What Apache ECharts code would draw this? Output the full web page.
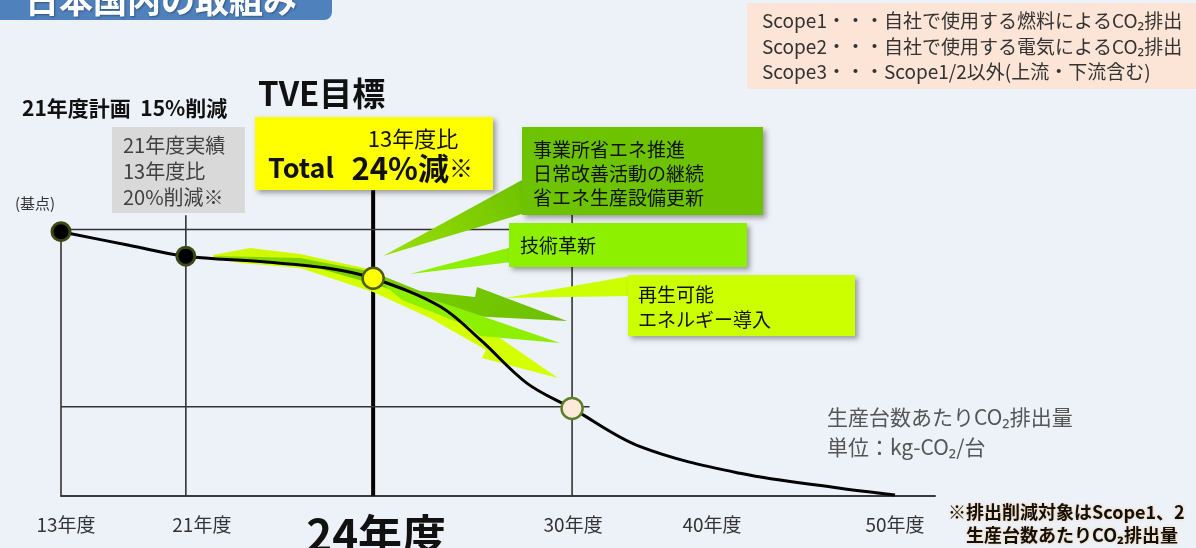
<!DOCTYPE html>
<html>
<head>
<meta charset="utf-8">
<script src="https://cdn.jsdelivr.net/npm/echarts@6.0.0/dist/echarts.min.js"></script>
<style>
html,body{margin:0;padding:0;background:#EDF1F8;}
#c{width:1196px;height:548px;}
</style>
</head>
<body>
<div id="c"></div>
<script>
// ---- data ----
const categories = ['13年度', '21年度', '24年度', '30年度', '40年度', '50年度'];
const categoryPos = [0, 15, 37.5, 61.4, 78.2, 100.2];          // position of each fiscal year on the concept axis
const keyValues = [99.2, 90.0, 81.7, 32.8];                      // 13, 21, 24, 30年度 (index, base = 100)
const curveX = [0, 8.3, 15, 24.3, 32.3, 37.5, 45.6, 50.4, 56, 61.4, 69.6, 81.6, 93.6, 100.2];
const curveY = [99.2, 94.0, 90.0, 87.9, 85.4, 81.7, 71.0, 58.5, 42.2, 32.8, 18.4, 8.4, 2.8, 0.3];
const refLevels = [100, 33.4];
const vLineTops = [100, 105.4, 114.8, 112];

const FONT = '"Noto Sans CJK JP", "Noto Sans", sans-serif';
const chart = echarts.init(document.getElementById('c'), null, {renderer: 'canvas'});

const PXU = 874 / 105; // px per x unit
const labelShiftPx = [5, 16, 3, 1, 0, 0];
const labelValues = categoryPos.map((p, i) => p + labelShiftPx[i] / PXU);

function nearestIdx(v) {
  let b = 0, d = 1e9;
  labelValues.forEach((p, i) => { if (Math.abs(p - v) < d) { d = Math.abs(p - v); b = i; } });
  return b;
}

const series = [];
for (let i = 0; i < 4; i++) {
  series.push({
    type: 'line', silent: true, symbol: 'none', z: 1,
    data: [[categoryPos[i], 0], [categoryPos[i], vLineTops[i]]],
    lineStyle: {color: i === 2 ? '#000' : '#333', width: i === 2 ? 4 : 1.6}
  });
}
refLevels.forEach(v => {
  series.push({
    type: 'line', silent: true, symbol: 'none', z: 1,
    data: [[0, v], [63.5, v]],
    lineStyle: {color: '#333', width: 1.6}
  });
});
series.push({
  type: 'line', symbol: 'none', smooth: 0.35, z: 4,
  data: curveX.map((x, i) => [x, curveY[i]]),
  lineStyle: {color: '#000', width: 3}
});
const ptStyles = [
  {color: '#000', borderColor: '#3B4A12', borderWidth: 3, opacity: 1},
  {color: '#000', borderColor: '#3B4A12', borderWidth: 3, opacity: 1},
  {color: '#FFFF00', borderColor: '#4F5A14', borderWidth: 2.5, opacity: 1},
  {color: '#FDE9D9', borderColor: '#5E7F2A', borderWidth: 2.5, opacity: 1}
];
series.push({
  type: 'scatter', z: 6,
  data: keyValues.map((v, i) => ({value: [categoryPos[i], v], itemStyle: ptStyles[i], symbolSize: i >= 2 ? 21 : 18}))
});

chart.setOption({
  backgroundColor: '#EDF1F8',
  animation: false,
  grid: {left: 61, right: 261, top: 176.3, bottom: 52.3, containLabel: false, outerBoundsMode: 'none'},
  xAxis: {
    type: 'value', min: 0, max: 105,
    axisLine: {show: true, lineStyle: {color: '#3a3a3a', width: 2}},
    axisTick: {show: false},
    splitLine: {show: false},
    axisLabel: {
      customValues: labelValues,
      margin: 20,
      formatter: v => {
        const i = nearestIdx(v);
        return i === 2 ? '{big|' + categories[i] + '}' : '{n|' + categories[i] + '}';
      },
      rich: {
        n: {fontSize: 19, color: '#333', fontFamily: FONT},
        big: {fontSize: 44, fontWeight: 'bold', color: '#111', fontFamily: FONT, lineHeight: 40}
      }
    }
  },
  yAxis: {type: 'value', min: 0, max: 120, show: false},
  series: series
});

// ---- annotations ----
const shadow = {shadowBlur: 5, shadowOffsetX: 3, shadowOffsetY: 3, shadowColor: 'rgba(0,0,0,0.35)'};
function txt(t, x, y, size, opts) {
  return {type: 'text', z: 20, style: Object.assign({
    text: t, x: x, y: y, fontSize: size, fontFamily: FONT, fill: '#222',
    textAlign: 'left', textVerticalAlign: 'middle'
  }, opts || {})};
}
function rect(x, y, w, h, fill, extra) {
  return {type: 'rect', z: 15, shape: {x: x, y: y, width: w, height: h, r: (extra && extra.r) || 0},
    style: Object.assign({fill: fill}, (extra && extra.noShadow) ? {} : shadow)};
}
function poly(pts, fill, z) {
  return {type: 'polygon', z: z || 3, silent: true, shape: {points: pts}, style: {fill: fill}};
}
const G = echarts.graphic;
const g = [];
// decorative bands along the curve
g.push(poly([[213,258],[300,262],[373,274],[430,300],[500,338],[558,378],[482,358],[486,350],[430,318],[373,292],[300,268],[240,263]], '#D4FF00', 2));
g.push(poly([[213,255],[250,248],[300,254],[373,270],[373,276],[300,262],[213,258]], '#D0F800', 2));
g.push(poly([[213,256],[300,258],[373,272],[420,291],[475,297],[477,287],[567,321],[470,316],[380,286],[300,263],[240,260]], new G.LinearGradient(0,0,1,0,[{offset:0,color:'#86DA00'},{offset:1,color:'#6CC000'}]), 2));
g.push(poly([[382,283],[470,312],[560,343],[480,336],[470,327],[402,300]], '#8CF000', 2));
// pointers
g.push(poly([[522,180],[522,214],[383,256]], new G.LinearGradient(1,0,0,1,[{offset:0,color:'#6EC300'},{offset:1,color:'#9BE000'}]), 14));
g.push(poly([[512,247],[512,262],[410,274]], '#8CF000', 14));
g.push(poly([[630,276],[630,296],[505,298]], '#CCFF00', 14));

g.push(rect(-20, -40, 352, 60, '#4F81BD', {r: 8, noShadow: true}));
g.push(txt('日本国内の取組み', 25, 0, 34, {fill: '#fff', fontWeight: 'bold', textShadowColor: 'rgba(0,0,0,0.35)', textShadowBlur: 2, textShadowOffsetX: 1, textShadowOffsetY: 1}));
g.push(rect(747, 3, 460, 86, '#FCE4D6', {noShadow: true}));
g.push(txt('Scope1・・・自社で使用する燃料によるCO₂排出', 762, 21, 19, {fill: '#333'}));
g.push(txt('Scope2・・・自社で使用する電気によるCO₂排出', 762, 47, 19, {fill: '#333'}));
g.push(txt('Scope3・・・Scope1/2以外(上流・下流含む)', 762, 72, 19, {fill: '#333'}));
g.push(txt('(基点)', 35, 203, 15, {textAlign: 'center', fill: '#333'}));
g.push(txt('21年度計画  15%削減', 22, 108, 21, {fontWeight: 'bold', fill: '#111'}));
g.push(rect(112, 127, 133, 86, '#D9D9D9', {noShadow: true}));
g.push(txt('21年度実績', 123, 145, 20, {fill: '#404040'}));
g.push(txt('13年度比', 123, 171, 20, {fill: '#404040'}));
g.push(txt('20%削減※', 123, 197, 20, {fill: '#404040'}));
g.push(txt('TVE目標', 258, 93, 33, {fontWeight: 'bold', fill: '#111'}));
g.push(rect(255, 117, 238, 73, '#FFFF00'));
g.push(txt('13年度比', 413, 139, 22, {textAlign: 'center', fill: '#111'}));
g.push(txt('{a|Total}   {b|24%減}{c|※}', 268, 168, 26, {fill: '#111', rich: {
  a: {fontSize: 27, fontFamily: FONT, fontWeight: 'bold', fill: '#111'},
  b: {fontSize: 31, fontFamily: FONT, fontWeight: 'bold', fill: '#111'},
  c: {fontSize: 24, fontFamily: FONT, fill: '#111'}
}}));
g.push(rect(522, 127, 241, 88, '#6EC300'));
g.push(txt('事業所省エネ推進', 533, 150, 19, {fill: '#111'}));
g.push(txt('日常改善活動の継続', 533, 174, 19, {fill: '#111'}));
g.push(txt('省エネ生産設備更新', 533, 198, 19, {fill: '#111'}));
g.push(rect(509, 223, 238, 44, '#8CF000'));
g.push(txt('技術革新', 520, 246, 19, {fill: '#111'}));
g.push(rect(628, 275, 227, 61, '#CCFF00'));
g.push(txt('再生可能', 638, 295, 19, {fill: '#111'}));
g.push(txt('エネルギー導入', 638, 320, 19, {fill: '#111'}));
g.push(txt('生産台数あたりCO₂排出量', 827, 417, 21, {fill: '#555'}));
g.push(txt('単位：kg-CO₂/台', 827, 447, 21, {fill: '#555'}));
const glow = {textShadowColor: 'rgba(255,190,110,0.8)', textShadowBlur: 3};
g.push(txt('※排出削減対象はScope1、2', 948, 512, 18, Object.assign({fontWeight: 'bold', fill: '#111'}, glow)));
g.push(txt('生産台数あたりCO₂排出量', 1072, 535, 18, Object.assign({fontWeight: 'bold', fill: '#111', textAlign: 'center'}, glow)));

chart.setOption({graphic: {elements: g}});
</script>
</body>
</html>
